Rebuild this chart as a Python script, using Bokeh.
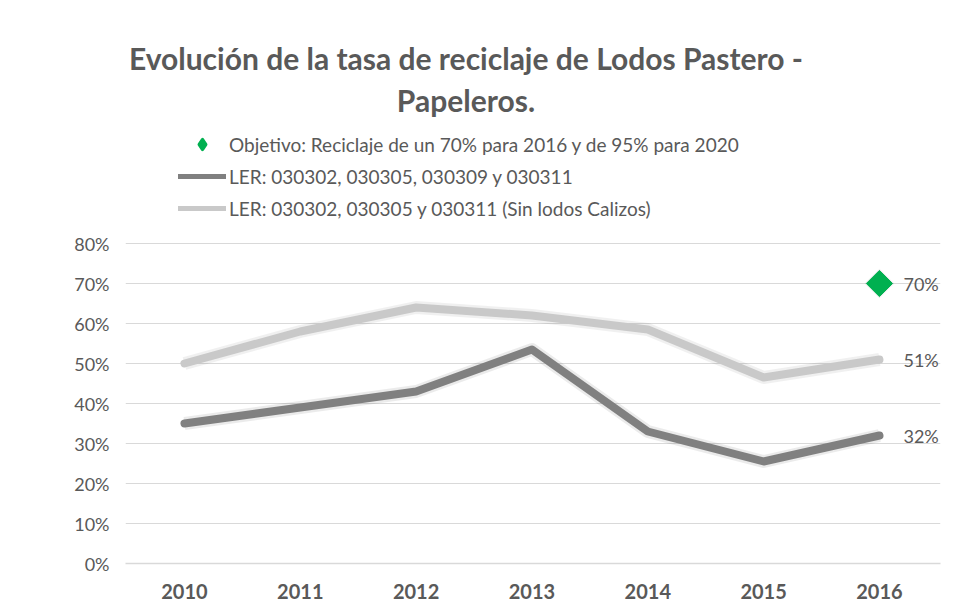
import math
from bokeh.plotting import figure
from bokeh.models import (ColumnDataSource, Range1d, FixedTicker, PrintfTickFormatter,
                          Label, LabelSet, Legend, LegendItem)
from bokeh.embed import file_html
from bokeh.resources import INLINE
from bokeh.core.properties import value

years = ["2010", "2011", "2012", "2013", "2014", "2015", "2016"]
ler_all = [35, 39, 43, 53.5, 33, 25.5, 32]
ler_sin_calizos = [50, 58, 64, 62, 58.5, 46.5, 51]
objetivo_year = "2016"
objetivo_value = 70
y_ticks = [0, 10, 20, 30, 40, 50, 60, 70, 80]

title_lines = ["Evolución de la tasa de reciclaje de Lodos Pastero -", "Papeleros."]
legend_labels = ["Objetivo: Reciclaje de un 70% para 2016 y de 95% para 2020",
                 "LER: 030302, 030305, 030309 y 030311",
                 "LER: 030302, 030305 y 030311 (Sin lodos Calizos)"]

FONT = "Lato"
TXT = "#595959"
DARK = "#808080"
LIGHT = "#c9c9c9"
GREEN = "#00b050"

xs = list(range(len(years)))
nan = float("nan")

p = figure(width=950, height=608, output_backend="svg", toolbar_location=None,
           x_range=Range1d(-0.509, 6.527), y_range=Range1d(0, 139.5),
           min_border_left=125, min_border_right=10, min_border_top=5, min_border_bottom=45)
p.outline_line_color = None
p.background_fill_color = "white"
p.border_fill_color = "white"

# axes
p.xaxis.ticker = FixedTicker(ticks=xs)
p.xaxis.major_label_overrides = {i: y for i, y in enumerate(years)}
p.xaxis.major_label_text_font = FONT
p.xaxis.major_label_text_font_style = "bold"
p.xaxis.major_label_text_font_size = "20px"
p.xaxis.major_label_text_color = TXT
p.xaxis.major_label_standoff = 14
p.xaxis.axis_line_color = "#d9d9d9"
p.xaxis.axis_line_width = 1.5
p.xaxis.major_tick_line_color = None
p.xaxis.minor_tick_line_color = None

p.yaxis.ticker = FixedTicker(ticks=y_ticks)
p.yaxis.formatter = PrintfTickFormatter(format="%d%%")
p.yaxis.major_label_text_font = FONT
p.yaxis.major_label_text_font_size = "18px"
p.yaxis.major_label_text_color = TXT
p.yaxis.major_label_standoff = 10
p.yaxis.axis_line_color = None
p.yaxis.major_tick_line_color = None
p.yaxis.minor_tick_line_color = None

p.xgrid.grid_line_color = None
p.ygrid.grid_line_color = "#d9d9d9"
p.ygrid.grid_line_width = 1

src = ColumnDataSource(dict(x=xs, a=ler_all, b=ler_sin_calizos))

# soft shadows
p.line("x", "a", source=src, line_color="black", line_alpha=0.08, line_width=13, line_join="round")
p.line("x", "b", source=src, line_color="black", line_alpha=0.06, line_width=13, line_join="round")

r_b = p.line("x", "b", source=src, line_color=LIGHT, line_width=8, line_join="round", line_cap="round")
r_a = p.line("x", "a", source=src, line_color=DARK, line_width=8, line_join="round", line_cap="round")

ox = years.index(objetivo_year)
obj_src = ColumnDataSource(dict(x=[ox], y=[objetivo_value]))
p.scatter("x", "y", source=obj_src, marker="square", angle=math.pi / 4, size=21,
          fill_color="black", fill_alpha=0.07, line_color=None)
r_obj = p.scatter("x", "y", source=obj_src, marker="square", angle=math.pi / 4, size=18.5,
                  fill_color=GREEN, line_color=GREEN)

# data labels at last point
last = len(years) - 1
lab_src = ColumnDataSource(dict(
    x=[ox, last, last],
    y=[objetivo_value, ler_sin_calizos[last], ler_all[last]],
    t=[f"{round(v)}%" for v in [objetivo_value, ler_sin_calizos[last], ler_all[last]]]))
p.add_layout(LabelSet(x="x", y="y", text="t", source=lab_src, x_offset=24,
                      text_baseline="middle", text_font=value(FONT), text_font_size="18px",
                      text_color=TXT))

# legend-only renderers (no visible data in the plot)
empty = ColumnDataSource(dict(x=[nan], y=[nan]))
lg_obj = p.scatter("x", "y", source=empty, marker="diamond", size=10,
                   fill_color=GREEN, line_color=GREEN, line_width=3.5, line_join="round")
lg_a = p.line("x", "y", source=empty, line_color=DARK, line_width=5, line_cap="round")
lg_b = p.line("x", "y", source=empty, line_color=LIGHT, line_width=5, line_cap="round")

legend = Legend(items=[LegendItem(label=legend_labels[0], renderers=[lg_obj]),
                       LegendItem(label=legend_labels[1], renderers=[lg_a]),
                       LegendItem(label=legend_labels[2], renderers=[lg_b])],
                location=(53, 343), glyph_width=48, glyph_height=24, label_height=24,
                spacing=8, padding=0, margin=0, label_standoff=3,
                background_fill_alpha=0, border_line_color=None,
                label_text_font=FONT, label_text_font_size="19px", label_text_color=TXT)
p.add_layout(legend, "center")

# title
tx = 2.43
p.add_layout(Label(x=tx, y=126.5, text=title_lines[0], text_align="center", text_baseline="middle",
                   text_font=FONT, text_font_style="bold", text_font_size="30px", text_color=TXT))
p.add_layout(Label(x=tx, y=116.0, text=title_lines[1], text_align="center", text_baseline="middle",
                   text_font=FONT, text_font_style="bold", text_font_size="30px", text_color=TXT))

open("out.html", "w").write(file_html(p, INLINE))
